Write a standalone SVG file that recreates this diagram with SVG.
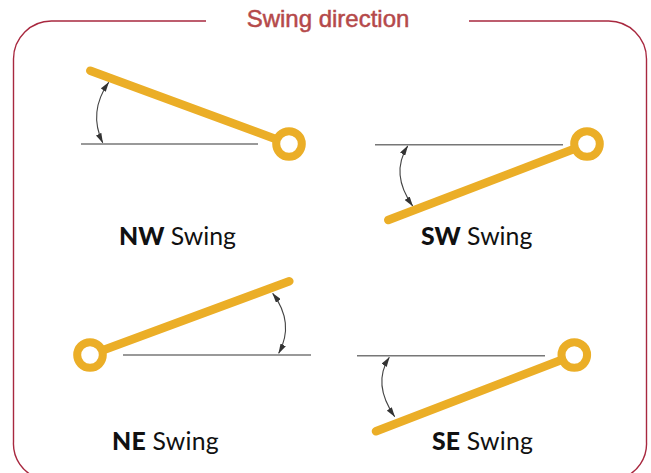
<svg xmlns="http://www.w3.org/2000/svg" width="651" height="473" viewBox="0 0 651 473">
<style>
.bar{fill:none;stroke:#ebae27;stroke-width:8.500;stroke-linecap:round}
.ring{fill:#fff;stroke:#ebae27;stroke-width:8}
.ref{fill:none;stroke:#777;stroke-width:1.4}
.arc{fill:none;stroke:#444;stroke-width:1.1;marker-start:url(#a);marker-end:url(#a)}
.lbl{font-family:"Lato","Liberation Sans",sans-serif;font-size:24.800px;fill:#111}
.lbl tspan{font-weight:900}
.ttl{font-family:"Liberation Sans",Arial,sans-serif;font-size:24px;fill:#b5494a;stroke:#b5494a;stroke-width:.5;text-anchor:middle}
.frame{fill:none;stroke:#a8283f;stroke-width:1.4}
</style>
<defs>
<marker id="a" viewBox="0 0 10 6" refX="9.500" refY="3" markerWidth="10" markerHeight="6" markerUnits="userSpaceOnUse" orient="auto-start-reverse"><path d="M0 0L10 3L0 6Z" fill="#333"/></marker>
</defs>
<g id="frame"><path class="frame" d="M206 21H52A38 38 0 0 0 13.500 59V442A36 36 0 0 0 38 478M469 21H608A38 38 0 0 1 646.500 59V442A36 36 0 0 1 622 478"/></g>
<text id="title" class="ttl" x="328" y="27">Swing direction</text>
<g id="nw">
<path class="ref" d="M81 144H258"/>
<path class="arc" d="M102.700 142.700Q88 112 108.700 82.300"/>
<path class="bar" d="M90.300 70.700L289 144"/>
<circle class="ring" cx="289" cy="144" r="12.800"/>
<text class="lbl" x="119" y="245"><tspan>NW</tspan> Swing</text>
</g>
<g id="sw">
<path class="ref" d="M375 144.700H563"/>
<path class="arc" d="M407.700 146Q390 174 412.700 206"/>
<path class="bar" d="M388.300 220L587 144"/>
<circle class="ring" cx="587" cy="144" r="12.800"/>
<text class="lbl" x="421" y="245"><tspan>SW</tspan> Swing</text>
</g>
<g id="ne">
<path class="ref" d="M123 355H311"/>
<path class="arc" d="M278.700 353.300Q295 323 272.700 293.300"/>
<path class="bar" d="M289.300 281.300L90 355"/>
<circle class="ring" cx="90" cy="355" r="12.800"/>
<text class="lbl" x="112" y="450" letter-spacing=".25"><tspan>NE</tspan> Swing</text>
</g>
<g id="se">
<path class="ref" d="M357 355.700H545"/>
<path class="arc" d="M389.300 357.300Q372 384 394.700 416.700"/>
<path class="bar" d="M376 431.300L574.300 355"/>
<circle class="ring" cx="574.300" cy="355" r="12.800"/>
<text class="lbl" x="432" y="450" letter-spacing=".2"><tspan>SE</tspan> Swing</text>
</g>
</svg>
